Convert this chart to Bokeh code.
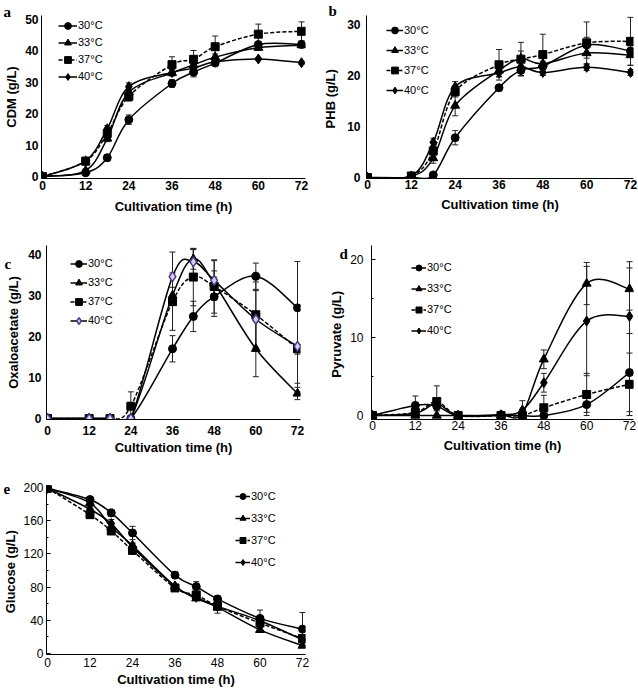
from bokeh.plotting import figure
from bokeh.layouts import column, row
from bokeh.models import (ColumnDataSource, Whisker, TeeHead, Legend,
                          LegendItem, FixedTicker, Range1d)
from bokeh.embed import file_html
from bokeh.resources import INLINE

# ---------------- data ----------------
hours = [0, 12, 18, 24, 36, 42, 48, 60, 72]
temps = ["30°C", "33°C", "37°C", "40°C"]
x_ticks = [0, 12, 24, 36, 48, 60, 72]

# a: CDM (g/L)
cdm_30 = [0, 1.2, 6.0, 18.1, 29.6, 33.2, 36.1, 42.0, 42.0]
cdm_33 = [0, 1.9, 12.1, 26.8, 33.0, 35.5, 38.0, 41.0, 41.8]
cdm_37 = [0, 4.9, 13.7, 25.5, 35.6, 37.3, 41.3, 45.3, 46.2]
cdm_40 = [0, 5.0, 15.2, 28.6, 33.1, 34.5, 36.5, 37.4, 36.2]
cdm_err_30 = [0, 0.5, 1.0, 1.5, 1.2, 1.5, 0.8, 0.5, 0.5]
cdm_err_33 = [0, 0.5, 1.0, 1.0, 1.0, 1.0, 1.0, 0.8, 0.5]
cdm_err_37 = [0, 1.2, 1.0, 1.5, 2.5, 2.8, 3.4, 3.2, 3.0]
cdm_err_40 = [0, 1.0, 1.0, 1.2, 1.0, 1.0, 0.8, 0.5, 0.5]

# b: PHB (g/L)
phb_30 = [0, 0, 0.5, 7.8, 17.6, 21.0, 21.8, 26.0, 24.8]
phb_33 = [0, 0.2, 3.8, 14.1, 21.0, 23.3, 22.3, 24.4, 24.0]
phb_37 = [0, 0.3, 5.2, 16.8, 22.1, 23.2, 24.1, 26.4, 26.7]
phb_40 = [0, 0.3, 6.9, 17.8, 20.5, 21.7, 20.6, 21.6, 20.6]
phb_err_30 = [0, 0, 0.3, 1.4, 0.6, 1.0, 1.0, 1.5, 1.0]
phb_err_33 = [0, 0.3, 1.0, 2.0, 1.2, 1.5, 1.2, 1.0, 2.0]
phb_err_37 = [0, 0.3, 1.0, 1.0, 3.0, 3.3, 4.0, 4.1, 4.7]
phb_err_40 = [0, 0.3, 0.8, 1.0, 0.8, 0.8, 0.6, 0.6, 0.6]

# c: Oxaloacetate (g/L)
oxa_30 = [0, 0, 0, 0, 17.0, 24.9, 29.7, 34.7, 27.0]
oxa_33 = [0, 0, 0, 0, 30.0, 38.9, 33.0, 17.0, 6.1]
oxa_37 = [0, 0, 0, 3.0, 28.5, 34.5, 32.2, 25.3, 17.0]
oxa_40 = [0, 0, 0, 0, 34.6, 38.2, 33.7, 24.2, 17.6]
oxa_err_30 = [0, 0, 0, 0, 3.2, 3.7, 4.8, 3.2, 11.3]
oxa_err_33 = [0, 0, 0, 0, 2.0, 2.5, 3.0, 6.8, 1.5]
oxa_err_37 = [0, 0, 0, 3.5, 7.0, 7.0, 6.5, 8.0, 10.5]
oxa_err_40 = [0, 0, 0, 0, 6.0, 3.0, 4.8, 7.0, 9.0]

# d: Pyruvate (g/L)
pyr_30 = [0, 1.3, 1.2, 0, 0.1, 0, 0, 1.4, 5.5]
pyr_33 = [0, 0, 0, 0, 0, 0.3, 7.2, 16.9, 16.2]
pyr_37 = [0, 0.4, 1.8, 0, 0, 0, 1.0, 2.7, 4.0]
pyr_40 = [0, 0.3, 1.5, 0, 0.1, 0.7, 4.2, 12.1, 12.7]
pyr_err_30 = [0, 1.2, 0.6, 0, 0, 0, 0, 1.0, 5.0]
pyr_err_33 = [0, 0, 0, 0, 0, 0.3, 1.2, 2.7, 2.7]
pyr_err_37 = [0, 0.3, 2.0, 0, 0, 0, 1.6, 2.7, 4.0]
pyr_err_40 = [0, 0.3, 0.8, 0, 0, 1.2, 1.2, 7.0, 7.0]

# e: Glucose (g/L)
glu_30 = [199, 185.5, 169.4, 145.2, 94.4, 80.6, 65.7, 42.3, 29.4]
glu_33 = [199, 181.5, 152.4, 130.2, 81.0, 66.5, 55.6, 28.5, 9.5]
glu_37 = [199, 167.3, 147.6, 124.2, 79.0, 70.6, 57.0, 36.7, 18.1]
glu_40 = [199, 173.8, 156.5, 128.2, 81.0, 67.7, 56.8, 39.5, 16.5]
glu_err_30 = [1, 3, 4, 8, 4, 6, 4, 10, 20]
glu_err_33 = [1, 3, 3, 3, 2, 2, 7, 3, 2]
glu_err_37 = [1, 3, 4, 3, 2, 2, 3, 3, 3]
glu_err_40 = [1, 3, 5, 4, 2, 3, 3, 3, 3]

# ---------------- styling ----------------
FONT = "Liberation Sans"
SERIF = "Liberation Serif"
MARKERS = ["circle", "triangle", "square", "diamond"]
MSIZE = [8, 9, 8, 10]
DASH = ["solid", "solid", "4 2", "solid"]
LETTER_PX = 15


def curve_segments(xs, ys, t=1.0 / 6.0):
    n = len(xs)
    seg = {k: [] for k in ("x0", "y0", "x1", "y1", "cx0", "cy0", "cx1", "cy1")}
    for i in range(n - 1):
        a = max(i - 1, 0)
        d = min(i + 2, n - 1)
        seg["x0"].append(xs[i]); seg["y0"].append(ys[i])
        seg["x1"].append(xs[i + 1]); seg["y1"].append(ys[i + 1])
        seg["cx0"].append(xs[i] + (xs[i + 1] - xs[a]) * t)
        seg["cy0"].append(ys[i] + (ys[i + 1] - ys[a]) * t)
        seg["cx1"].append(xs[i + 1] - (xs[d] - xs[i]) * t)
        seg["cy1"].append(ys[i + 1] - (ys[d] - ys[i]) * t)
    return seg


def make_panel(letter, series, errors, ylabel, yticks, yminor, L,
               bold_ticks=True, inside_ticks=False, purple40=False):
    fl, ft, fr, fb = L["frame"]
    px0, px72 = L["xmap"]
    py0, pyk, k = L["ymap"]
    sx = (px72 - px0) / 72.0
    sy = (py0 - pyk) / float(k)
    x_start, x_end = (fl - px0) / sx, (fr - px0) / sx
    y_start, y_end = (py0 - fb) / sy, (py0 - ft) / sy

    W, H = L["size"]
    gl, gt = L["origin"]
    p = figure(width=W, height=H, output_backend="svg", toolbar_location=None,
               x_range=Range1d(x_start, x_end), y_range=Range1d(y_start, y_end),
               min_border_left=fl - gl, min_border_right=gl + W - fr,
               min_border_top=ft - gt, min_border_bottom=gt + H - fb)
    p.outline_line_color = None
    p.xgrid.visible = False
    p.ygrid.visible = False
    p.background_fill_color = "white"
    p.border_fill_color = "white"

    style = "bold" if bold_ticks else "normal"
    for ax, ticks, minor, lab, ls, als in (
            (p.xaxis[0], x_ticks, [], "Cultivation time (h)", L["xstand"][0], L["xstand"][1]),
            (p.yaxis[0], yticks, yminor, ylabel, L["ystand"][0], L["ystand"][1])):
        ax.ticker = FixedTicker(ticks=ticks, minor_ticks=minor)
        ax.axis_label = lab
        ax.axis_label_text_font = FONT
        ax.axis_label_text_font_size = "13px"
        ax.axis_label_text_font_style = "bold"
        ax.axis_label_text_color = "black"
        ax.axis_label_standoff = als
        ax.major_label_text_font = FONT
        ax.major_label_text_font_size = "12px"
        ax.major_label_text_font_style = style
        ax.major_label_text_color = "black"
        ax.major_label_standoff = ls
        ax.axis_line_color = "black"
        ax.axis_line_width = 1
        ax.major_tick_out = 0
        ax.minor_tick_out = 0
        ax.major_tick_in = 0
        ax.minor_tick_in = 0
        ax.major_tick_line_color = "black"
        ax.minor_tick_line_color = "black"
    if inside_ticks:
        p.yaxis[0].major_tick_in = 4
        p.yaxis[0].minor_tick_in = 2

    for ys, es in zip(series, errors):
        src = ColumnDataSource(dict(
            x=hours,
            upper=[y + e for y, e in zip(ys, es)],
            lower=[max(0, y - e) for y, e in zip(ys, es)]))
        p.add_layout(Whisker(base="x", upper="upper", lower="lower", source=src,
                             dimension="height", line_color="#222222", line_width=1,
                             upper_head=TeeHead(size=6, line_color="#222222", line_width=1),
                             lower_head=TeeHead(size=6, line_color="#222222", line_width=1)))
    curves = []
    for i, ys in enumerate(series):
        curves.append(p.bezier(x0="x0", y0="y0", x1="x1", y1="y1", cx0="cx0", cy0="cy0",
                               cx1="cx1", cy1="cy1",
                               source=ColumnDataSource(curve_segments(hours, ys)),
                               line_color="black", line_width=1.5, line_dash=DASH[i]))
    items = []
    for i, ys in enumerate(series):
        if purple40 and i == 3:
            fc, lc, lw, sz = "#d8cfee", "#4b3785", 1.5, 10
        else:
            fc, lc, lw, sz = "black", "black", 1, MSIZE[i]
        sr = p.scatter(x=hours, y=ys, marker=MARKERS[i], size=sz,
                       fill_color=fc, line_color=lc, line_width=lw)
        items.append(LegendItem(label=temps[i], renderers=[curves[i], sr], index=0))

    gx, gy1, pitch, gw = L["legend"]
    vx = gx - fl
    vy = fb - (gy1 - pitch / 2.0 + 4 * pitch)
    p.add_layout(Legend(items=items, location=(vx, vy), orientation="vertical",
                        padding=0, margin=0, spacing=0, glyph_width=gw,
                        glyph_height=pitch, label_height=pitch, label_standoff=1,
                        label_text_font=FONT, label_text_font_size="11px",
                        label_text_color="black",
                        border_line_color=None, background_fill_alpha=0))

    # panel letter as the plot title, shifted to the left margin
    lx_left, l_base = L["letter"]
    bottom = l_base + 0.216 * LETTER_PX
    p.title.text = letter
    p.title.align = "left"
    p.title.vertical_align = "bottom"
    p.title.offset = lx_left - fl
    p.title.standoff = 2.0 * (ft - bottom)
    p.title.text_font = SERIF
    p.title.text_font_style = "bold"
    p.title.text_font_size = "%dpx" % LETTER_PX
    p.title.text_color = "black"
    return p


LA = dict(origin=(0, 0), size=(318, 230), frame=(41, 13, 305, 181),
          xmap=(42, 301), ymap=(179, 17, 50), xstand=(2, 6), ystand=(3, 3),
          legend=(58, 28, 17, 19), letter=(3, 14))
LB = dict(origin=(318, 0), size=(320, 230), frame=(366, 15, 633, 178),
          xmap=(367, 630), ymap=(177, 24, 30), xstand=(1, 5), ystand=(6, 6),
          legend=(386, 30, 20, 17), letter=(328, 15))
LC = dict(origin=(0, 230), size=(318, 230), frame=(46, 245, 300, 419),
          xmap=(47, 297), ymap=(418, 254, 40), xstand=(6, 2), ystand=(5, 4),
          legend=(70, 263, 19, 17), letter=(4, 268))
LD = dict(origin=(318, 230), size=(320, 230), frame=(371, 245, 633, 421),
          xmap=(372, 629), ymap=(417, 259, 20), xstand=(1, 5), ystand=(8, 3),
          legend=(411, 269, 21, 15), letter=(339, 258))
LE = dict(origin=(0, 460), size=(318, 234), frame=(46, 485, 305, 654),
          xmap=(47, 302), ymap=(653, 487, 200), xstand=(3, 2), ystand=(3, 2),
          legend=(235, 496, 22, 15), letter=(3, 490))

pa = make_panel("a", [cdm_30, cdm_33, cdm_37, cdm_40],
                [cdm_err_30, cdm_err_33, cdm_err_37, cdm_err_40],
                "CDM (g/L)", [0, 10, 20, 30, 40, 50], [], LA)
pb = make_panel("b", [phb_30, phb_33, phb_37, phb_40],
                [phb_err_30, phb_err_33, phb_err_37, phb_err_40],
                "PHB  (g/L)", [0, 10, 20, 30], [], LB)
pc = make_panel("c", [oxa_30, oxa_33, oxa_37, oxa_40],
                [oxa_err_30, oxa_err_33, oxa_err_37, oxa_err_40],
                "Oxaloacetate (g/L)", [0, 10, 20, 30, 40], [], LC, purple40=True)
pd = make_panel("d", [pyr_30, pyr_33, pyr_37, pyr_40],
                [pyr_err_30, pyr_err_33, pyr_err_37, pyr_err_40],
                "Pyruvate  (g/L)", [0, 10, 20], [5, 15], LD,
                bold_ticks=False, inside_ticks=True)
pe = make_panel("e", [glu_30, glu_33, glu_37, glu_40],
                [glu_err_30, glu_err_33, glu_err_37, glu_err_40],
                "Glucose  (g/L)", [0, 40, 80, 120, 160, 200], [20, 60, 100, 140, 180], LE,
                bold_ticks=False, inside_ticks=True)

layout = column(row(pa, pb), row(pc, pd), pe)
open("out.html", "w").write(file_html(layout, INLINE))
